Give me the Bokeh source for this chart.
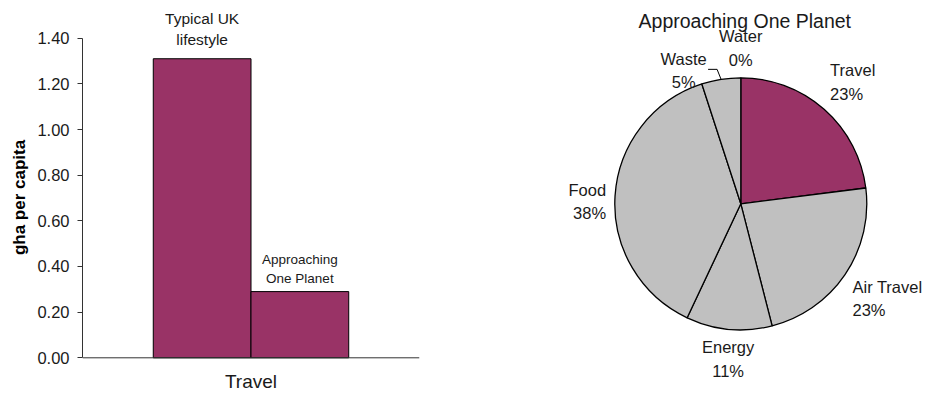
import math
from bokeh.plotting import figure
from bokeh.models import ColumnDataSource, Range1d, FixedTicker, NumeralTickFormatter, Label, Span
from bokeh.transform import dodge
from bokeh.layouts import row
from bokeh.embed import file_html
from bokeh.resources import INLINE
from bokeh.core.properties import value

# ---------------- data ----------------
bar_categories = ["Travel"]
bar_series = ["Typical UK\nlifestyle", "Approaching\nOne Planet"]
bar_values = [1.31, 0.29]
y_ticks = [0.0, 0.2, 0.4, 0.6, 0.8, 1.0, 1.2, 1.4]
y_axis_title = "gha per capita"

pie_title = "Approaching One Planet"
pie_labels = ["Travel", "Air Travel", "Energy", "Food", "Waste", "Water"]
pie_shares = [23, 23, 11, 38, 5, 0]

# ---------------- styles / layout ----------------
FONT = "Liberation Sans"
TXT = "#1a1a1a"
AXIS = "#333333"
PLUM = "#993366"
GREY = "#C0C0C0"
pie_colors = [PLUM, GREY, GREY, GREY, GREY, GREY]
bar_offsets = [-0.145, 0.145]
bar_width = 0.29
bar_label_sizes = ["15.5px", "13.5px"]
bar_label_line_h = [1.2, 1.25]
bar_label_yoff = [-11, -6]
W, H = 927, 394
BAR_W = 460
Y0_PX, Y140_PX = 357.3, 37.7          # screen rows of 0.00 and 1.40
PX_PER_UNIT = (Y0_PX - Y140_PX) / 1.4

# ---------------- bar chart ----------------
y_lo = -(H - Y0_PX) / PX_PER_UNIT
y_hi = Y0_PX / PX_PER_UNIT
bp = figure(width=BAR_W, height=H, x_range=bar_categories, y_range=Range1d(y_lo, y_hi),
            x_axis_location=None, output_backend="svg", toolbar_location=None,
            min_border_left=82, min_border_right=41, min_border_top=0, min_border_bottom=0)
bp.outline_line_color = None
bp.xgrid.visible = False
bp.ygrid.visible = False

for i, (name, val) in enumerate(zip(bar_series, bar_values)):
    src = ColumnDataSource(dict(cat=[bar_categories[0]], val=[val], label=[name]))
    xd = dodge("cat", bar_offsets[i], range=bp.x_range)
    bp.vbar(x=xd, top="val", bottom=0, width=bar_width, source=src,
            fill_color=PLUM, line_color="black", line_width=1)
    bp.text(x=xd, y="val", text="label", source=src, text_align="center",
            text_baseline="bottom", y_offset=bar_label_yoff[i], text_font=value(FONT),
            text_font_size=bar_label_sizes[i], text_color=TXT,
            text_line_height=bar_label_line_h[i])

# category axis: baseline and category name
bp.add_layout(Span(location=0, dimension="width", line_color=AXIS, line_width=1))
csrc = ColumnDataSource(dict(cat=bar_categories, y=[0] * len(bar_categories)))
bp.text(x="cat", y="y", text="cat", source=csrc, text_align="center",
        text_baseline="middle", y_offset=24, text_font=value(FONT),
        text_font_size="19px", text_color=TXT)

ya = bp.yaxis[0]
ya.ticker = FixedTicker(ticks=y_ticks)
ya.formatter = NumeralTickFormatter(format="0.00")
ya.bounds = (y_ticks[0], y_ticks[-1])
ya.minor_tick_line_color = None
ya.major_tick_out = 5
ya.major_tick_in = 0
ya.major_tick_line_color = AXIS
ya.axis_line_color = AXIS
ya.major_label_text_font = FONT
ya.major_label_text_font_size = "16.5px"
ya.major_label_text_color = TXT
ya.major_label_standoff = 8
ya.axis_label = y_axis_title
ya.axis_label_text_font = FONT
ya.axis_label_text_font_style = "bold"
ya.axis_label_text_font_size = "17px"
ya.axis_label_text_color = "black"
ya.axis_label_standoff = 5

# ---------------- pie chart ----------------
PW = W - BAR_W
pp = figure(width=PW, height=H, x_range=Range1d(0, PW), y_range=Range1d(0, H),
            x_axis_type=None, y_axis_type=None, output_backend="svg",
            toolbar_location=None, min_border=0)
pp.outline_line_color = None
pp.xgrid.visible = False
pp.ygrid.visible = False

cx, cy, r = 280.3, H - 203.3, 126.0
total = float(sum(pie_shares))
starts, ends, mids = [], [], []
cum = 0.0
for s in pie_shares:
    a0 = math.pi / 2 - 2 * math.pi * cum / total
    cum += s
    a1 = math.pi / 2 - 2 * math.pi * cum / total
    starts.append(a0)
    ends.append(a1)
    mids.append((a0 + a1) / 2)

wedge_rows = [i for i, s in enumerate(pie_shares) if s > 0]
wsrc = ColumnDataSource(dict(
    start=[starts[i] for i in wedge_rows],
    end=[ends[i] for i in wedge_rows],
    color=[pie_colors[i] for i in wedge_rows],
))
pp.wedge(x=cx, y=cy, radius=r, start_angle="start", end_angle="end", direction="clock",
         fill_color="color", line_color="black", line_width=1.3, source=wsrc)

# label placement (Excel-like: outside the pie, anchored by direction)
label_nudge = {"Waste": (-36, -21), "Food": (0, -6), "Air Travel": (0, 2)}
leader_for = {"Waste"}
lx, ly, la, lb, lt = [], [], [], [], []
leaders_x, leaders_y = [], []
gap = 9
for name, s, m in zip(pie_labels, pie_shares, mids):
    c, sn = math.cos(m), math.sin(m)
    px, py = cx + (r + gap) * c, cy + (r + gap) * sn
    align = "left" if c > 0.25 else ("right" if c < -0.25 else "center")
    base = "bottom" if sn > 0.25 else ("top" if sn < -0.25 else "middle")
    if name in label_nudge:
        dx, dy = label_nudge[name]
        px, py = px + dx, py + dy
    if name in leader_for:
        ex, ey = cx + r * c, cy + r * sn
        leaders_x.append([ex, ex - 4, ex - 13])
        leaders_y.append([ey, ey + 10, ey + 10])
    lx.append(px); ly.append(py); la.append(align); lb.append(base)
    lt.append(f"{name}\n{round(100 * s / total)}%")

lsrc = ColumnDataSource(dict(x=lx, y=ly, text=lt, align=la, base=lb))
pp.text(x="x", y="y", text="text", text_align="align", text_baseline="base", source=lsrc,
        text_font=value(FONT), text_font_size="16.5px", text_color=TXT, text_line_height=1.3)
if leaders_x:
    pp.multi_line(xs=leaders_x, ys=leaders_y, line_color="black", line_width=1)

pp.add_layout(Label(x=cx + 4, y=H - 20.5, text=pie_title, text_align="center",
                    text_baseline="alphabetic", text_font=FONT, text_font_size="19.5px",
                    text_color=TXT))

layout = row(bp, pp)
open("out.html", "w").write(file_html(layout, INLINE))
